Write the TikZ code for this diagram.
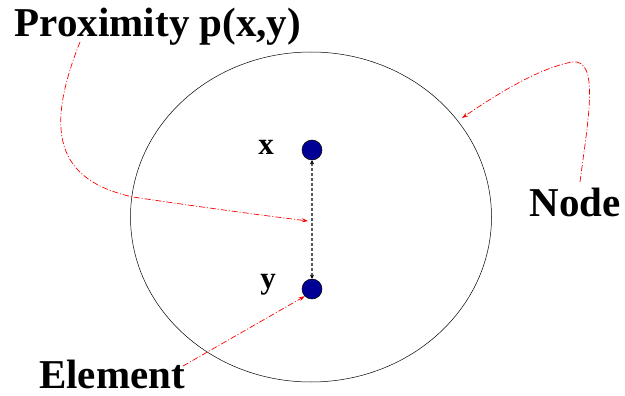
\documentclass[tikz,border=0pt]{standalone}
\usepackage{fontspec}
\setmainfont{Liberation Serif}
\usetikzlibrary{arrows.meta,shapes.geometric}
\definecolor{navy}{RGB}{0,0,150}
\tikzset{
  lbl/.style={font=\fontsize{41}{41}\selectfont\bfseries, inner sep=0pt},
  small/.style={font=\fontsize{31}{31}\selectfont\bfseries, inner sep=0pt},
  elem/.style={circle, draw=black, line width=0.5pt, fill=navy, minimum size=20pt, inner sep=0pt},
  pointer/.style={red, line width=0.7pt, dash pattern=on 6pt off 2pt on 1pt off 2pt, -{Stealth[length=6pt,width=4pt]}},
  prox/.style={gray!70!black, line width=1.2pt, dash pattern=on 3pt off 2pt, {Stealth[length=4pt,width=4pt,black]}-{Stealth[length=4pt,width=4pt,black]}}
}
\begin{document}
\begin{tikzpicture}[x=1pt,y=-1pt]
\useasboundingbox (0,0) rectangle (625,396);
\node[draw=black, line width=0.5pt, ellipse, inner sep=0pt, minimum width=361pt, minimum height=330pt] (cl) at (311,217) {};
\node[elem] (x) at (312,150) {};
\node[elem] (y) at (312,289) {};
\node[small] (xl) at (266,147) {x};
\node[small] (yl) at (268,285) {y};
\node[lbl] (prox) at (158,27) {Proximity p(x,y)};
\node[lbl] (node) at (575,202) {Node};
\node[lbl] (el) at (112,374) {Element};
\draw[prox] (x.south) -- (y.north);
\coordinate (mid) at (308,221);
\coordinate (edge) at (462,118);
\coordinate (elstart) at (183,366);
\draw[pointer] (80,42) .. controls (45,130) and (55,180) .. (133,197) .. controls (200,207) and (260,215) .. (mid);
\draw[pointer] (580,182) .. controls (588,120) and (600,58) .. (572,62) .. controls (540,68) and (500,92) .. (edge);
\draw[pointer] (elstart) -- (y.south west);
\end{tikzpicture}
\end{document}
